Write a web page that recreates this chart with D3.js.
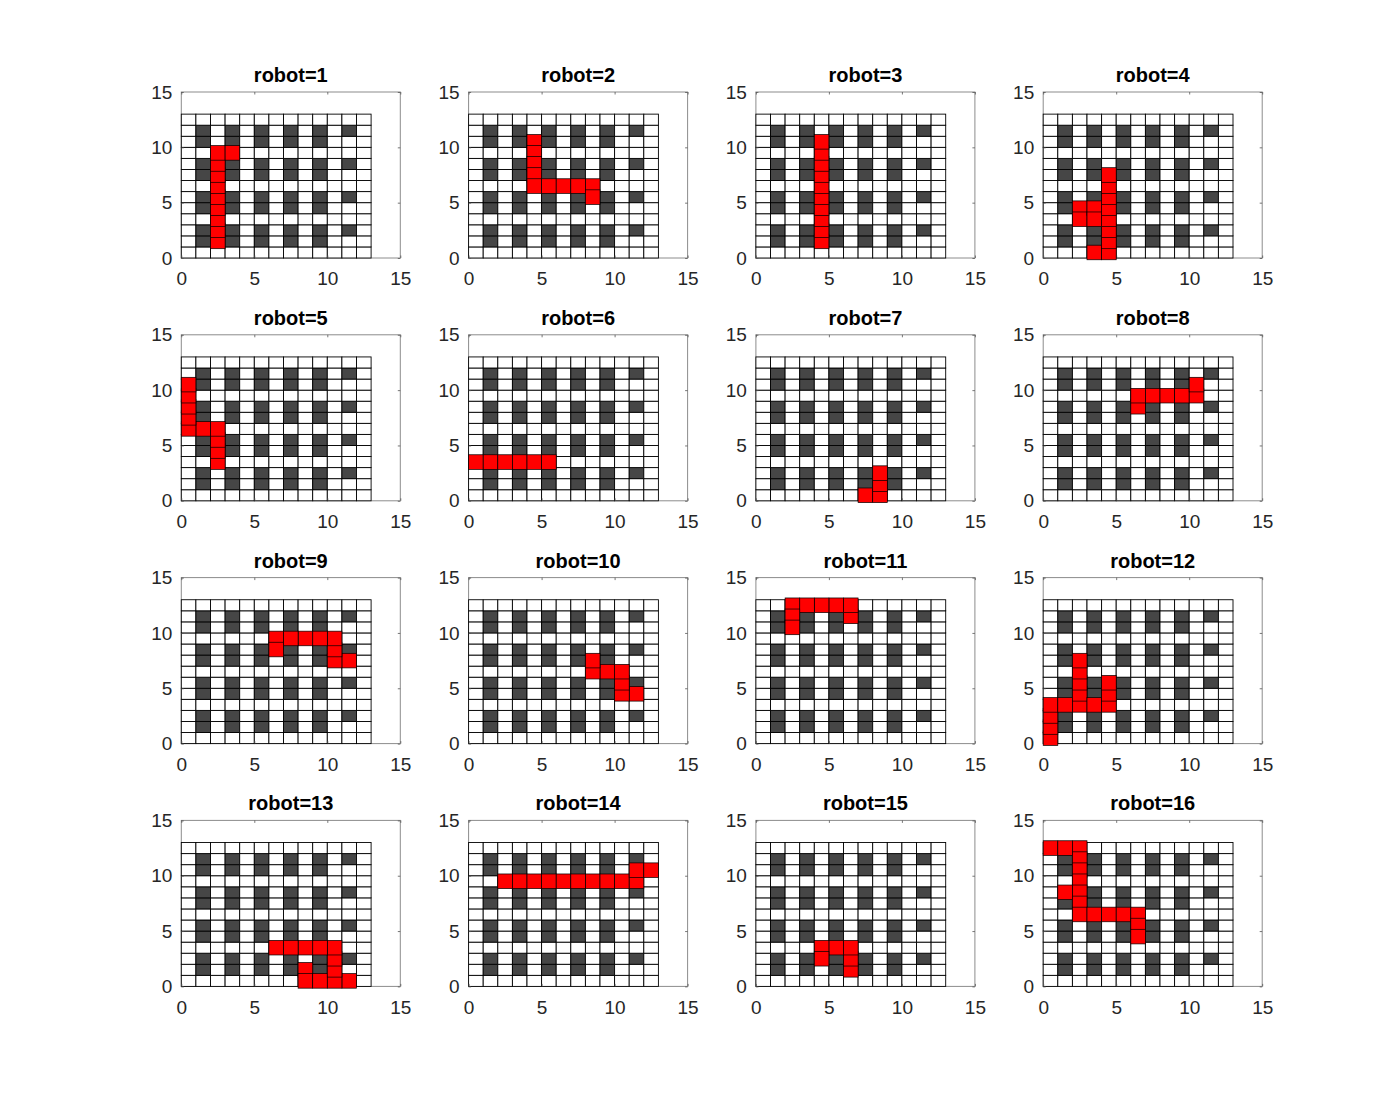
<!DOCTYPE html>
<html><head><meta charset="utf-8">
<script src="https://cdn.jsdelivr.net/npm/d3@7"></script>
<style>body{margin:0;background:#fff;} svg{display:block;}</style>
</head><body>
<script>
// ---- data ----
const gridCols = 13, gridRows = 13;
const shelfCols = [1, 3, 5, 7, 9];
const shelfRows = [1, 2, 4, 5, 7, 8, 10, 11];
const edgeShelfCol = 11;
const edgeShelfRows = [2, 5, 8, 11];
const xTicks = [0, 5, 10, 15];
const yTicks = [0, 5, 10, 15];
const axisDomain = [0, 15];
const robotIds = d3.range(1, 17);
// cells [col,row] occupied by each robot, in drawing order
const robot1 = [[2,1],[2,2],[2,3],[2,4],[2,5],[2,6],[2,7],[2,8],[2,9],[3,9]];
const robot2 = [[4,10],[4,9],[4,8],[4,7],[4,6],[5,6],[6,6],[7,6],[8,6],[8,5]];
const robot3 = [[4,1],[4,2],[4,3],[4,4],[4,5],[4,6],[4,7],[4,8],[4,9],[4,10]];
const robot4 = [[3,0],[4,0],[4,1],[4,2],[4,3],[4,4],[4,5],[4,6],[4,7],[2,4],[2,3],[3,4],[3,3]];
const robot5 = [[2,3],[2,4],[2,5],[2,6],[1,6],[0,6],[0,7],[0,8],[0,9],[0,10]];
const robot6 = [[0,3],[1,3],[2,3],[3,3],[4,3],[5,3]];
const robot7 = [[7,0],[8,0],[8,1],[8,2]];
const robot8 = [[6,8],[6,9],[7,9],[8,9],[9,9],[10,9],[10,10]];
const robot9 = [[11,7],[10,7],[10,8],[10,9],[9,9],[8,9],[7,9],[6,9],[6,8]];
const robot10 = [[11,4],[10,4],[10,5],[10,6],[9,6],[8,6],[8,7]];
const robot11 = [[6,11],[6,12],[5,12],[4,12],[3,12],[2,12],[2,11],[2,10]];
const robot12 = [[0,0],[0,1],[0,2],[0,3],[1,3],[2,3],[2,4],[2,5],[2,6],[2,7],[3,3],[4,3],[4,4],[4,5]];
const robot13 = [[8,1],[8,0],[9,0],[11,0],[10,0],[10,1],[10,2],[10,3],[9,3],[8,3],[7,3],[6,3]];
const robot14 = [[2,9],[3,9],[4,9],[5,9],[6,9],[7,9],[8,9],[9,9],[10,9],[11,9],[11,10],[12,10]];
const robot15 = [[6,1],[6,2],[6,3],[5,3],[4,3],[4,2]];
const robot16 = [[0,12],[1,12],[2,12],[2,11],[2,10],[2,9],[2,8],[2,7],[2,6],[3,6],[4,6],[5,6],[6,6],[6,5],[6,4],[1,8]];
const robotCells = [robot1,robot2,robot3,robot4,robot5,robot6,robot7,robot8,robot9,robot10,robot11,robot12,robot13,robot14,robot15,robot16];

// ---- layout ----
const W = 1394, H = 1108;
const left0 = 181.3, dxPanel = 287.3, top0 = 92, dyPanel = 242.8;
const aw = 219, ah = 166;
const font = "'Liberation Sans', Arial, Helvetica, sans-serif";

const svg = d3.select("body").append("svg").attr("width", W).attr("height", H);
const x = d3.scaleLinear().domain(axisDomain).range([0, aw]);
const y = d3.scaleLinear().domain(axisDomain).range([ah, 0]);

function isShelf(c, r) {
  if (shelfCols.includes(c) && shelfRows.includes(r)) return true;
  if (c === edgeShelfCol && edgeShelfRows.includes(r)) return true;
  return false;
}
const cells = [];
for (let c = 0; c < gridCols; c++) for (let r = 0; r < gridRows; r++) cells.push([c, r]);

robotIds.forEach((id, i) => {
  const col = i % 4, row = Math.floor(i / 4);
  const g = svg.append("g").attr("transform", `translate(${left0 + col * dxPanel},${top0 + row * dyPanel})`);

  // axes box
  g.append("rect").attr("x", 0).attr("y", 0).attr("width", aw).attr("height", ah)
    .attr("fill", "#fff").attr("stroke", "#8c8c8c").attr("stroke-width", 1);

  // grid cells
  g.append("g").selectAll("rect").data(cells).join("rect")
    .attr("x", d => x(d[0])).attr("y", d => y(d[1] + 1))
    .attr("width", x(1) - x(0)).attr("height", y(0) - y(1))
    .attr("fill", d => isShelf(d[0], d[1]) ? "#464646" : "#ffffff")
    .attr("stroke", "#000").attr("stroke-width", 0.9);

  // axes ticks/labels
  const ax = g.append("g").attr("transform", `translate(0,${ah})`)
    .call(d3.axisBottom(x).tickValues(xTicks).tickSizeInner(-2.5).tickSizeOuter(0).tickPadding(14));
  const axT = g.append("g").call(d3.axisTop(x).tickValues(xTicks).tickSizeInner(-2.5).tickSizeOuter(0).tickFormat(""));
  const ay = g.append("g")
    .call(d3.axisLeft(y).tickValues(yTicks).tickSizeInner(-2.5).tickSizeOuter(0).tickPadding(9));
  const ayR = g.append("g").attr("transform", `translate(${aw},0)`)
    .call(d3.axisRight(y).tickValues(yTicks).tickSizeInner(-2.5).tickSizeOuter(0).tickFormat(""));
  [ax, axT, ay, ayR].forEach(a => {
    a.select(".domain").remove();
    a.selectAll(".tick line").attr("stroke", "#555").attr("stroke-width", 0.8);
    a.selectAll("text").attr("fill", "#262626").style("font-family", font).style("font-size", "19px");
  });

  // robot squares
  const s = x(1) - x(0);
  g.append("g").selectAll("rect").data(robotCells[i]).join("rect")
    .attr("x", d => x(d[0] + 0.5) - s / 2).attr("y", d => y(d[1] + 0.5) - s / 2)
    .attr("width", s).attr("height", s)
    .attr("fill", "#ff0000").attr("stroke", "#000").attr("stroke-width", 0.7);

  // title
  g.append("text").attr("x", aw / 2).attr("y", -10).attr("text-anchor", "middle")
    .style("font-family", font).style("font-size", "20px").style("font-weight", "bold")
    .attr("fill", "#000").text(`robot=${id}`);
});
</script>
</body></html>
